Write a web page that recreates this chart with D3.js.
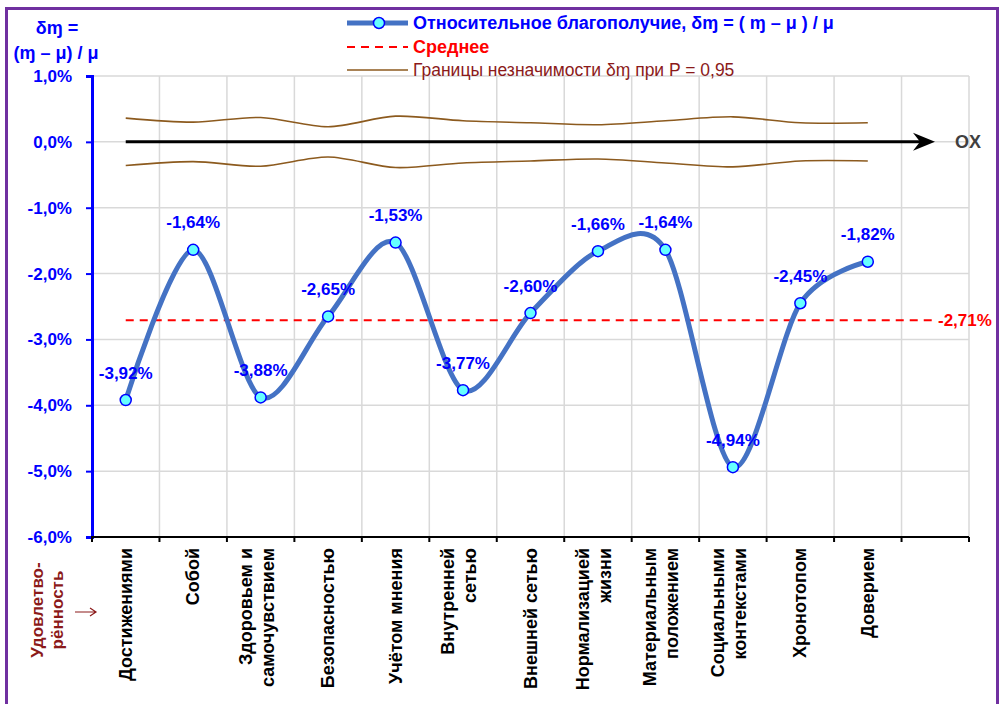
<!DOCTYPE html>
<html>
<head>
<meta charset="utf-8">
<script src="https://cdn.jsdelivr.net/npm/d3@7"></script>
<style>
  body { margin: 0; background: #fff; }
  svg { display: block; font-family: "Liberation Sans", Arial, sans-serif; }
</style>
</head>
<body>
<svg id="chart"></svg>
<script>
const WIDTH = 1001;
const HEIGHT = 704;

// categories (line breaks as in the original labels)
const categories = [
  ["Достижениями"],
  ["Собой"],
  ["Здоровьем и", "самочувствием"],
  ["Безопасностью"],
  ["Учётом мнения"],
  ["Внутренней", "сетью"],
  ["Внешней сетью"],
  ["Нормализацией", "жизни"],
  ["Материальным", "положением"],
  ["Социальными", "контекстами"],
  ["Хронотопом"],
  ["Доверием"],
];
// relative wellbeing, %
const values = [-3.92, -1.64, -3.88, -2.65, -1.53, -3.77, -2.6, -1.66, -1.64, -4.94, -2.45, -1.82];
const meanValue = -2.71;
// half-width of the insignificance band, %
const bounds = [0.36, 0.3, 0.37, 0.23, 0.39, 0.32, 0.29, 0.26, 0.32, 0.38, 0.29, 0.29];
const yTicks = [1, 0, -1, -2, -3, -4, -5, -6];

const fmt = (v, d) => v.toFixed(d).replace(".", ",") + "%";

const svg = d3.select("#chart").attr("width", WIDTH).attr("height", HEIGHT);

/* frame */
svg.append("rect")
  .attr("x", 6.5).attr("y", 8.5)
  .attr("width", 991).attr("height", 700)
  .attr("fill", "none")
  .attr("stroke", "#7030A0")
  .attr("stroke-width", 3);

/* scales: 13 slots, last one left empty */
const slots = d3.range(13);
const x = d3.scaleBand().domain(slots).range([92, 969]).padding(0);
const cx = (i) => x(i) + x.bandwidth() / 2;
const y = d3.scaleLinear().domain([-6, 1]).range([537, 76]);

/* grid */
const grid = svg.append("g");
grid.selectAll("line.h")
  .data(yTicks)
  .enter()
  .append("line")
  .attr("x1", 92).attr("x2", 969)
  .attr("y1", (d) => y(d)).attr("y2", (d) => y(d))
  .attr("stroke", "#d9d9d9").attr("stroke-width", 1.5);
grid.selectAll("line.v")
  .data(slots.map((i) => x(i) + x.bandwidth()))
  .enter()
  .append("line")
  .attr("x1", (d) => d).attr("x2", (d) => d)
  .attr("y1", y(1)).attr("y2", y(-6))
  .attr("stroke", "#d9d9d9").attr("stroke-width", 1.5);

/* y axis */
const yAxis = svg.append("g")
  .attr("transform", "translate(92,0)")
  .call(d3.axisLeft(y).tickValues(yTicks).tickSize(6).tickFormat((d) => fmt(d, 1)));
yAxis.select(".domain").attr("stroke", "#0000ff").attr("stroke-width", 3);
yAxis.selectAll(".tick line").attr("stroke", "#0000ff").attr("stroke-width", 2);
yAxis.selectAll(".tick text")
  .attr("x", -20)
  .attr("fill", "#0000ff")
  .attr("font-size", 17)
  .attr("font-weight", "bold")
  .attr("font-family", "Liberation Sans, Arial, sans-serif");

/* x axis */
const xAxis = svg.append("g")
  .attr("transform", `translate(0,${y(-6)})`);
xAxis.append("line")
  .attr("x1", 91).attr("x2", 969)
  .attr("stroke", "#000").attr("stroke-width", 2);
xAxis.selectAll("line.t")
  .data(slots.map((i) => x(i)).concat([969]))
  .enter()
  .append("line")
  .attr("x1", (d) => d).attr("x2", (d) => d)
  .attr("y1", 0).attr("y2", 5)
  .attr("stroke", "#000").attr("stroke-width", 2);

/* category labels, rotated */
categories.forEach((lines, i) => {
  const offs = lines.length === 1 ? [6] : [-9, 13];
  lines.forEach((txt, k) => {
    svg.append("text")
      .attr("transform", `translate(${cx(i) + offs[k]},548) rotate(-90)`)
      .attr("text-anchor", "end")
      .attr("font-size", 18)
      .attr("font-weight", "bold")
      .attr("fill", "#000")
      .text(txt);
  });
});

/* left caption under the axis */
[["Удовлетво-", 43], ["рённость", 63]].forEach(([t, px]) => {
  svg.append("text")
    .attr("transform", `translate(${px},610) rotate(-90)`)
    .attr("text-anchor", "middle")
    .attr("font-size", 17)
    .attr("font-weight", "bold")
    .attr("fill", "#8b1a1a")
    .text(t);
});
// thin arrow pointing to the labels
svg.append("path")
  .attr("d", "M75,612 H96 M90,608 L96,612 L90,616")
  .attr("fill", "none")
  .attr("stroke", "#8b1a1a")
  .attr("stroke-width", 1.2);

/* y title */
svg.append("text")
  .attr("x", 57).attr("y", 34)
  .attr("text-anchor", "middle")
  .attr("font-size", 18).attr("font-weight", "bold")
  .attr("fill", "#0000ff")
  .text("δɱ =");
svg.append("text")
  .attr("x", 56).attr("y", 59)
  .attr("text-anchor", "middle")
  .attr("font-size", 18).attr("font-weight", "bold")
  .attr("fill", "#0000ff")
  .text("(ɱ – μ) / μ");

/* OX arrow */
const x0 = cx(0);
const xEnd = 935;
svg.append("line")
  .attr("x1", x0).attr("x2", xEnd - 10)
  .attr("y1", y(0)).attr("y2", y(0))
  .attr("stroke", "#000").attr("stroke-width", 3);
svg.append("path")
  .attr("d", `M${xEnd},${y(0)} L${xEnd - 22},${y(0) - 9} L${xEnd - 15},${y(0)} L${xEnd - 22},${y(0) + 9} Z`)
  .attr("fill", "#000");
svg.append("text")
  .attr("x", 955).attr("y", y(0))
  .attr("dominant-baseline", "central")
  .attr("font-size", 18).attr("font-weight", "bold")
  .attr("fill", "#404040")
  .text("OX");

/* insignificance band */
const smooth = d3.line()
  .x((d) => cx(d.i))
  .y((d) => y(d.v))
  .curve(d3.curveCardinal.tension(0.1));
svg.append("path")
  .datum(bounds.map((v, i) => ({ i, v })))
  .attr("d", smooth)
  .attr("fill", "none").attr("stroke", "#8c5a1e").attr("stroke-width", 1.6);
svg.append("path")
  .datum(bounds.map((v, i) => ({ i, v: -v })))
  .attr("d", smooth)
  .attr("fill", "none").attr("stroke", "#8c5a1e").attr("stroke-width", 1.6);

/* mean line */
svg.append("line")
  .attr("x1", x0).attr("x2", 933)
  .attr("y1", y(meanValue)).attr("y2", y(meanValue))
  .attr("stroke", "#ff0000").attr("stroke-width", 2)
  .attr("stroke-dasharray", "8,6");
svg.append("text")
  .attr("x", 938).attr("y", y(meanValue))
  .attr("dominant-baseline", "central")
  .attr("font-size", 17).attr("font-weight", "bold")
  .attr("fill", "#ff0000")
  .text(fmt(meanValue, 2));

/* main series */
const pts = values.map((v, i) => ({ i, v }));
svg.append("path")
  .datum(pts)
  .attr("d", smooth)
  .attr("fill", "none").attr("stroke", "#4472c4").attr("stroke-width", 5);
svg.selectAll("circle.pt")
  .data(pts)
  .enter()
  .append("circle")
  .attr("cx", (d) => cx(d.i)).attr("cy", (d) => y(d.v))
  .attr("r", 5.5)
  .attr("fill", "#66ffff").attr("stroke", "#0000ff").attr("stroke-width", 1.5);
svg.selectAll("text.lbl")
  .data(pts)
  .enter()
  .append("text")
  .attr("x", (d) => cx(d.i)).attr("y", (d) => y(d.v) - 27)
  .attr("text-anchor", "middle")
  .attr("dominant-baseline", "central")
  .attr("font-size", 17).attr("font-weight", "bold")
  .attr("fill", "#0000ff")
  .text((d) => fmt(d.v, 2));

/* legend */
const legend = svg.append("g");
const lx1 = 347, lx2 = 408, tx = 413;
legend.append("line").attr("x1", lx1).attr("x2", lx2).attr("y1", 23).attr("y2", 23)
  .attr("stroke", "#4472c4").attr("stroke-width", 5);
legend.append("circle").attr("cx", 379).attr("cy", 23).attr("r", 5.5)
  .attr("fill", "#66ffff").attr("stroke", "#0000ff").attr("stroke-width", 1.5);
legend.append("text").attr("x", tx).attr("y", 23).attr("dominant-baseline", "central")
  .attr("font-size", 18).attr("font-weight", "bold").attr("fill", "#0000ff")
  .text("Относительное благополучие, δɱ = ( ɱ – μ ) / μ");
legend.append("line").attr("x1", lx1).attr("x2", lx2).attr("y1", 47).attr("y2", 47)
  .attr("stroke", "#ff0000").attr("stroke-width", 2).attr("stroke-dasharray", "8,6");
legend.append("text").attr("x", tx).attr("y", 47).attr("dominant-baseline", "central")
  .attr("font-size", 18).attr("font-weight", "bold").attr("fill", "#ff0000")
  .text("Среднее");
legend.append("line").attr("x1", lx1).attr("x2", lx2).attr("y1", 70).attr("y2", 70)
  .attr("stroke", "#8c5a1e").attr("stroke-width", 1.6);
legend.append("text").attr("x", tx).attr("y", 70).attr("dominant-baseline", "central")
  .attr("font-size", 17.5).attr("fill", "#8b1a1a")
  .text("Границы незначимости δɱ при P = 0,95");
</script>
</body>
</html>
